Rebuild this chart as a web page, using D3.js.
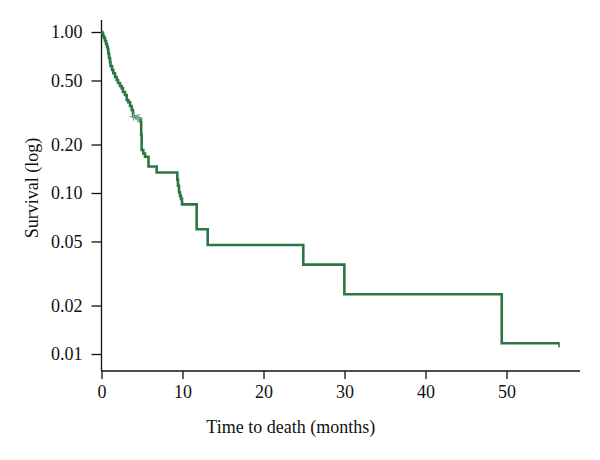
<!DOCTYPE html>
<html>
<head>
<meta charset="utf-8">
<script src="https://cdn.jsdelivr.net/npm/d3@7"></script>
<style>
  html, body { margin: 0; padding: 0; background: #fff; }
  svg text { font-family: "Liberation Serif", "DejaVu Serif", serif; fill: #111; }
</style>
</head>
<body>
<svg id="chart" width="600" height="460"></svg>
<script>
// Kaplan–Meier step points (time in months, survival probability)
const times = [0, 0.10, 0.19, 0.31, 0.43, 0.56, 0.68, 0.77, 0.84, 0.93, 1.05, 1.11, 1.30, 1.46, 1.67, 1.88, 2.04, 2.28, 2.49, 2.65, 2.90, 3.11, 3.31, 3.52, 3.73, 3.89, 3.93, 4.30, 4.75, 4.84, 4.90, 4.96, 5.16, 5.37, 5.80, 6.81, 9.36, 9.44, 9.57, 9.69, 9.81, 9.94, 11.75, 13.11, 24.91, 29.98, 49.41, 56.48];
const survival = [1.0, 0.982, 0.944, 0.918, 0.879, 0.842, 0.810, 0.784, 0.737, 0.690, 0.651, 0.615, 0.581, 0.554, 0.525, 0.503, 0.482, 0.462, 0.447, 0.424, 0.406, 0.378, 0.367, 0.347, 0.328, 0.310, 0.298, 0.291, 0.284, 0.276, 0.229, 0.185, 0.176, 0.168, 0.146, 0.134, 0.121, 0.111, 0.101, 0.096, 0.092, 0.085, 0.0595, 0.0475, 0.0359, 0.0235, 0.01165, 0.01165];
const censorTimes = [3.95, 4.45, 4.62];
const xTicks = [0, 10, 20, 30, 40, 50];
const yTicks = [1.00, 0.50, 0.20, 0.10, 0.05, 0.02, 0.01];
const xLabel = "Time to death (months)";
const yLabel = "Survival (log)";

const svg = d3.select("#chart");
const axisY = 371, axisX = 101.5;
const x = d3.scaleLinear().domain([0, 59.07]).range([101.5, 580]);
const y = d3.scaleLog().domain([0.01, 1]).range([354, 32]);

const green = "#2b7641";
const fs = 18;

// Axes
const xAxis = svg.append("g").attr("transform", `translate(0,${axisY})`)
  .call(d3.axisBottom(x).tickValues(xTicks).tickFormat(d3.format("d")).tickSize(8).tickSizeOuter(0).tickPadding(6));
xAxis.select(".domain").remove();
xAxis.append("line").attr("x1", x(0)).attr("x2", x.range()[1]).attr("y1", 0).attr("y2", 0)
  .attr("stroke", "#111").attr("stroke-width", 1.3);
xAxis.selectAll(".tick line").attr("stroke", "#111").attr("stroke-width", 1.3);
xAxis.selectAll(".tick text").attr("font-size", fs).attr("fill", "#111")
  .style("font-family", '"Liberation Serif", "DejaVu Serif", serif');

const yAxis = svg.append("g").attr("transform", `translate(${axisX},0)`)
  .call(d3.axisLeft(y).tickValues(yTicks).tickFormat(d3.format(".2f")).tickSize(10).tickSizeOuter(0).tickPadding(9));
yAxis.select(".domain").remove();
yAxis.append("line").attr("x1", 0).attr("x2", 0).attr("y1", 20).attr("y2", axisY)
  .attr("stroke", "#111").attr("stroke-width", 1.3);
yAxis.selectAll(".tick line").attr("stroke", "#111").attr("stroke-width", 1.3);
yAxis.selectAll(".tick text").attr("font-size", fs).attr("fill", "#111")
  .style("font-family", '"Liberation Serif", "DejaVu Serif", serif');

// Axis titles
svg.append("text").attr("x", (x(0) + x.range()[1]) / 2 - 50).attr("y", 433)
  .attr("text-anchor", "middle").attr("font-size", fs).text(xLabel);
svg.append("text").attr("transform", `translate(38,${188}) rotate(-90)`)
  .attr("text-anchor", "middle").attr("font-size", fs).text(yLabel);

// KM curve
const pts = times.map((t, i) => [t, survival[i]]);
const line = d3.line().x(d => x(d[0])).y(d => y(d[1])).curve(d3.curveStepAfter);
svg.append("path").datum(pts).attr("d", line)
  .attr("fill", "none").attr("stroke", green).attr("stroke-width", 2.6)
  .attr("stroke-linejoin", "miter");

// Censor marks
const survAt = t => { let s = 1; for (let i = 0; i < times.length; i++) if (times[i] <= t) s = survival[i]; return s; };
const cens = svg.append("g").attr("stroke", "#7fae8c").attr("stroke-width", 1.2);
censorTimes.forEach(t => {
  const cx = x(t), cy = y(survAt(t));
  cens.append("line").attr("x1", cx - 4).attr("x2", cx + 4).attr("y1", cy).attr("y2", cy);
  cens.append("line").attr("x1", cx).attr("x2", cx).attr("y1", cy - 4).attr("y2", cy + 4);
});
// end-of-follow-up censor tick
const tEnd = times[times.length - 1];
svg.append("line").attr("x1", x(tEnd)).attr("x2", x(tEnd))
  .attr("y1", y(survAt(tEnd)) - 1).attr("y2", y(survAt(tEnd)) + 4)
  .attr("stroke", "#1d4a2a").attr("stroke-width", 1.3);
</script>
</body>
</html>
